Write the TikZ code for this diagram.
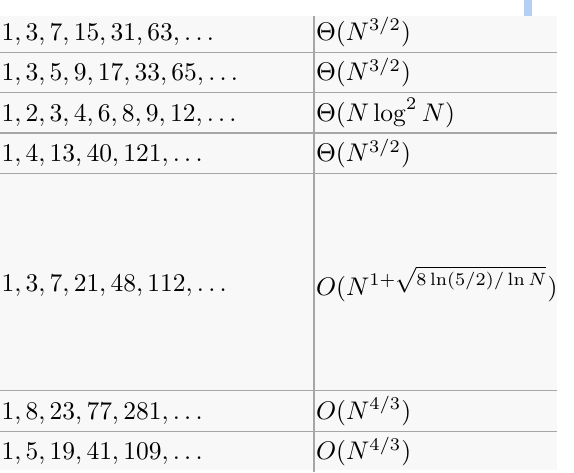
\documentclass[tikz,border=0pt]{standalone}
\definecolor{tablebg}{RGB}{248,248,248}
\definecolor{rule}{RGB}{166,166,166}
\definecolor{markblue}{RGB}{180,206,246}
\begin{document}
\begin{tikzpicture}[x=0.3922pt,y=-0.3922pt,
  cell/.style={inner sep=0pt,anchor=base west},
  gridline/.style={draw=rule,line width=0.59pt}]
\useasboundingbox (0,0) rectangle (574,472);
\fill[tablebg] (-2,16) rectangle (556.7,470);
\fill[markblue] (524.3,0) rectangle (532,16);
% grid
\foreach \yy in {52.3,92.7,133,173.5,390.7,431.3}
  \draw[gridline] (-2,\yy) -- (556.7,\yy);
\draw[gridline] (314,16) -- (314,472);
% left column
\node[cell] (l1) at (1,40) {$1,3,7,15,31,63,\ldots$};
\node[cell] (l2) at (1,80.5) {$1,3,5,9,17,33,65,\ldots$};
\node[cell] (l3) at (1,121) {$1,2,3,4,6,8,9,12,\ldots$};
\node[cell] (l4) at (1,161.3) {$1,4,13,40,121,\ldots$};
\node[cell] (l5) at (1,291) {$1,3,7,21,48,112,\ldots$};
\node[cell] (l6) at (1,419) {$1,8,23,77,281,\ldots$};
\node[cell] (l7) at (1,459.5) {$1,5,19,41,109,\ldots$};
% right column
\node[cell] (r1) at (315.5,40) {$\Theta(N^{3/2})$};
\node[cell] (r2) at (315.5,80.5) {$\Theta(N^{3/2})$};
\node[cell] (r3) at (315.5,121) {$\Theta(N\log^2 N)$};
\node[cell] (r4) at (315.5,161.3) {$\Theta(N^{3/2})$};
\node[cell] (r5) at (315.5,295.5) {$O(N^{1+\sqrt{8\ln(5/2)/\ln N}})$};
\node[cell] (r6) at (315.5,419) {$O(N^{4/3})$};
\node[cell] (r7) at (315.5,459.5) {$O(N^{4/3})$};
\end{tikzpicture}
\end{document}
